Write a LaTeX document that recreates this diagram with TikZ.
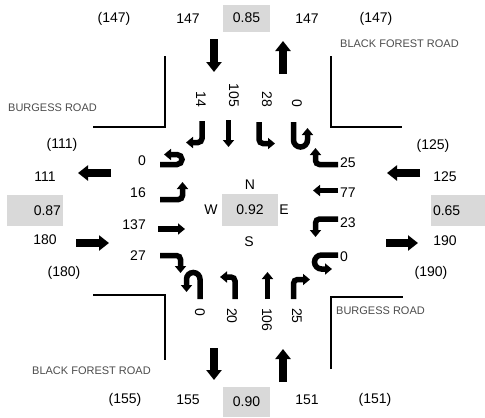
\documentclass[tikz,border=0pt]{standalone}
\usepackage{fontspec}
\setmainfont{Liberation Sans}
\usepackage{tikz}
\usetikzlibrary{arrows.meta}

\begin{document}
\begin{tikzpicture}[x=1pt, y=-1pt,
  num/.style={font=\fontsize{14}{16}\selectfont, inner sep=0},
  lane/.style={num, rotate=-90},
  road/.style={font=\fontsize{11}{13}\selectfont, text=black!70, inner sep=0, anchor=west},
  vcbox/.style={num, fill=black!15, minimum width=47pt, minimum height=27pt},
  sidebox/.style={num, fill=black!15, text width=52pt, inner xsep=2pt, minimum height=31pt},
  curb/.style={line width=1.2pt},
  flow/.style={line width=7.5pt, -{Triangle[width=15pt,length=10pt]}},
  mv/.style={line width=5.5pt, -{Triangle[width=11pt,length=7pt]}, rounded corners=4pt}
]
\useasboundingbox (0,0) rectangle (485,418);

% kerb lines
\draw[curb] (93,127) -- (165,127) -- (165,56);
\draw[curb] (331,56) -- (331,127) -- (402,127);
\draw[curb] (93,295) -- (165,295) -- (165,360);
\draw[curb] (331,369) -- (331,297) -- (403,297);

\node[road] (bfrN) at (340,44) {BLACK FOREST ROAD};
\node[road] (brW) at (8,108) {BURGESS ROAD};
\node[road] (brE) at (336,311) {BURGESS ROAD};
\node[road] (bfrS) at (32,371) {BLACK FOREST ROAD};

% top row
\node[num] (ta) at (114,18.5) {(147)};
\node[num] (tb) at (188,18.5) {147};
\node[vcbox] (tvc) at (246.5,18) {0.85};
\node[num] (tc) at (307,18.5) {147};
\node[num] (td) at (376,18.5) {(147)};
\draw[flow] (214,39) -- (214,72);
\draw[flow] (283,74) -- (283,41);

% bottom row
\node[num] (ba) at (125,400) {(155)};
\node[num] (bb) at (188,400) {155};
\node[vcbox, minimum height=30pt] (bvc) at (246.5,402) {0.90};
\node[num] (bc) at (307,400) {151};
\node[num] (bd) at (375,400) {(151)};
\draw[flow] (214,348) -- (214,380);
\draw[flow] (283,382) -- (283,349);

% west column
\node[num] (wa) at (62,145) {(111)};
\node[num] (wb) at (45,177) {111};
\node[sidebox, align=right] (wvc) at (35,210.5) {0.87};
\node[num] (wc) at (45,240) {180};
\node[num] (wd) at (64,273) {(180)};
\draw[flow] (111,173) -- (78,173);
\draw[flow] (76,243) -- (109,243);

% east column
\node[num] (ea) at (433,146) {(125)};
\node[num] (eb) at (445,177) {125};
\node[sidebox, align=left] (evc) at (459,210.5) {0.65};
\node[num] (ec) at (445,241) {190};
\node[num] (ed) at (431,273) {(190)};
\draw[flow] (420,173) -- (387,173);
\draw[flow] (386,243) -- (418,243);

% centre
\node[vcbox, minimum width=56pt, minimum height=32pt] (cvc) at (250,210) {0.92};
\node[num] (cn) at (250,185) {N};
\node[num] (cs) at (249,242) {S};
\node[num] (cw) at (211,210) {W};
\node[num] (ce) at (284,210) {E};

% west approach
\node[num, anchor=east] (wu) at (146,161) {0};
\node[num, anchor=east] (wl) at (146,193) {16};
\node[num, anchor=east] (wt) at (146,225) {137};
\node[num, anchor=east] (wr) at (146,256) {27};
\draw[mv, rounded corners=5pt] (160,164.5) -- (182,164.5) -- (182,154.5) -- (164,154.5);
\draw[mv] (160,199.5) -- (182.5,199.5) -- (182.5,182);
\draw[mv] (158,229) -- (185,229);
\draw[mv] (160,255.5) -- (180.5,255.5) -- (180.5,273);

% north approach
\node[lane, anchor=east] (nr) at (201,107) {14};
\node[lane, anchor=east] (nt) at (234,107) {105};
\node[lane, anchor=east] (nl) at (267,107) {28};
\node[lane, anchor=east] (nu) at (297,107) {0};
\draw[mv] (202,121) -- (202,142.5) -- (186,142.5);
\draw[mv] (228.5,120) -- (228.5,147);
\draw[mv] (259,122) -- (259,143.5) -- (275,143.5);
\draw[mv, rounded corners=7pt] (293.5,122) -- (293.5,147) -- (307.5,147) -- (307.5,128);

% east approach
\node[num, anchor=west] (er) at (340,163) {25};
\node[num, anchor=west] (et) at (340,193) {77};
\node[num, anchor=west] (el) at (340,223) {23};
\node[num, anchor=west] (eu) at (340,257) {0};
\draw[mv] (338,164.5) -- (315.5,164.5) -- (315.5,148);
\draw[mv] (338,190.5) -- (313,190.5);
\draw[mv] (338,219) -- (315.5,219) -- (315.5,237);
\draw[mv, rounded corners=7pt] (338,255) -- (314.5,255) -- (314.5,269) -- (332,269);

% south approach
\node[lane, anchor=west] (su) at (200,308) {0};
\node[lane, anchor=west] (sl) at (232,308) {20};
\node[lane, anchor=west] (st) at (267,308) {106};
\node[lane, anchor=west] (sr) at (297,308) {25};
\draw[mv, rounded corners=6.75pt] (200,299) -- (200,272.5) -- (186.5,272.5) -- (186.5,292);
\draw[mv] (235,299) -- (235,277) -- (220,277);
\draw[mv] (267.5,299) -- (267.5,272);
\draw[mv] (293.5,299) -- (293.5,279.5) -- (310,279.5);
\end{tikzpicture}
\end{document}
